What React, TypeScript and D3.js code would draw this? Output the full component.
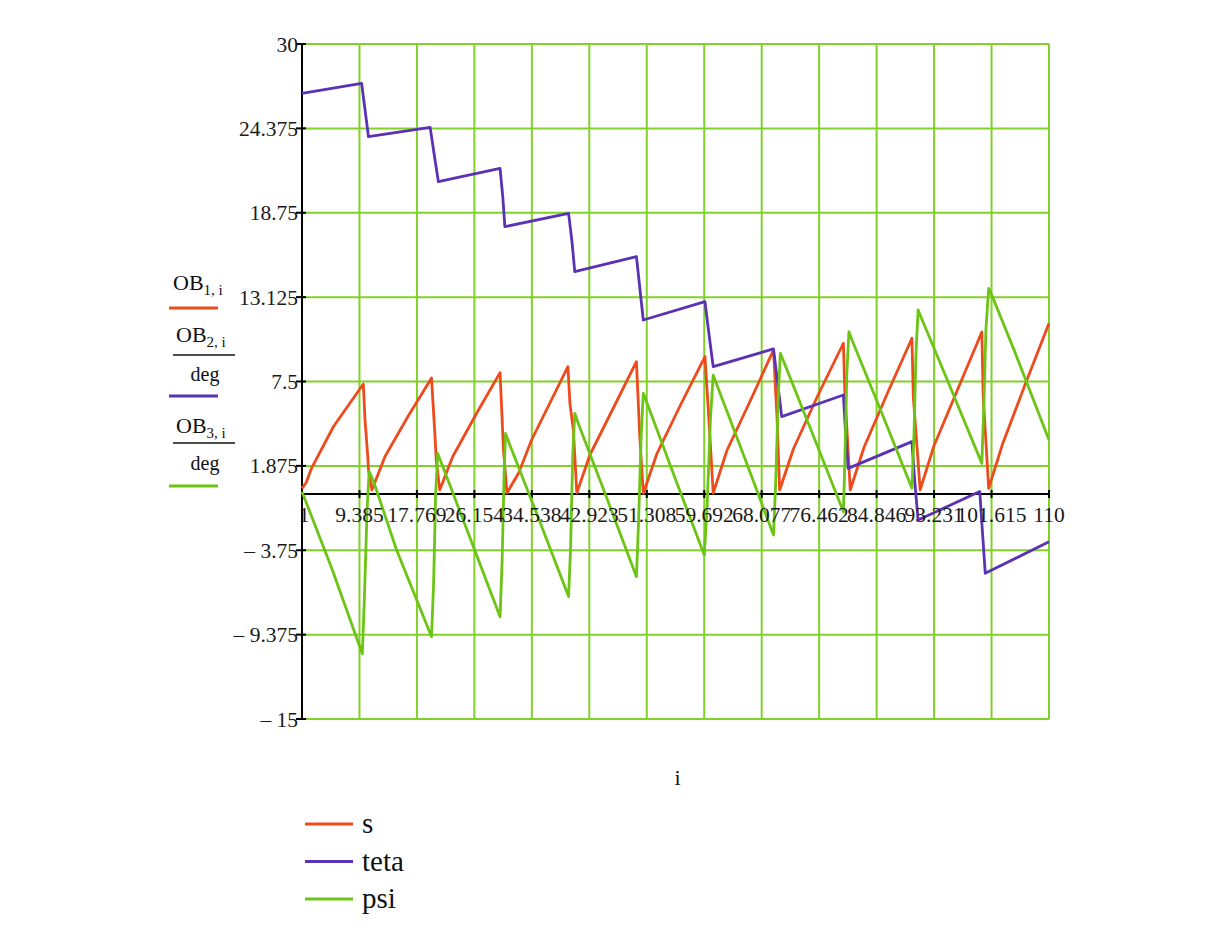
import * as d3 from 'd3';

const xTicks = [1, 9.385, 17.769, 26.154, 34.538, 42.923, 51.308, 59.692, 68.077, 76.462, 84.846, 93.231, 101.615, 110];
const xTickLabels = ['1', '9.385', '17.769', '26.154', '34.538', '42.923', '51.308', '59.692', '68.077', '76.462', '84.846', '93.231', '101.615', '110'];
const yTicks = [30, 24.375, 18.75, 13.125, 7.5, 1.875, -3.75, -9.375, -15];
const yTickLabels = ['30', '24.375', '18.75', '13.125', '7.5', '1.875', '\u2013 3.75', '\u2013 9.375', '\u2013 15'];

// s = OB[1,i]
const sPoints: [number, number][] = [
  [1, 0.38], [1.6, 0.75], [2.4, 1.73], [5.6, 4.5], [9.95, 7.33], [10.2, 4.9], [10.6, 2.5], [10.7, 1.6], [11.2, 0.27],
  [13.1, 2.49], [16.5, 5.2], [19.9, 7.73], [20.4, 3.93], [20.6, 2.2], [21.1, 0.27],
  [23.0, 2.5], [26.5, 5.4], [29.9, 8.09], [30.4, 2.93], [30.9, 0.07],
  [32.6, 1.38], [34.5, 3.6], [39.8, 8.49], [40.1, 6.0], [40.6, 4.27], [41.1, 0.07],
  [43.0, 2.6], [46.5, 5.8], [49.8, 8.82], [50.3, 3.7], [50.8, 0.05],
  [52.8, 2.7], [56.3, 6.0], [59.8, 9.16], [60.4, 4.8], [61.0, 0.05],
  [63.0, 2.9], [66.5, 6.3], [69.8, 9.6], [70.3, 5.2], [70.7, 0.27],
  [72.7, 3.0], [76.3, 6.6], [80.0, 10.05], [80.2, 6.9], [81.0, 0.27],
  [83.0, 3.1], [86.5, 6.8], [90.0, 10.38], [90.2, 6.5], [91.2, 0.27],
  [93.2, 3.2], [96.7, 7.0], [100.2, 10.8], [100.4, 6.5], [101.2, 0.38],
  [103.2, 3.3], [106.6, 7.4], [110, 11.38],
];

// teta = OB[2,i] / deg
const tetaPoints: [number, number][] = [
  [1, 26.71], [9.7, 27.38], [10.2, 25.6], [10.7, 23.82],
  [19.7, 24.44], [20.3, 22.6], [20.9, 20.82],
  [29.9, 21.71], [30.3, 19.8], [30.6, 17.82],
  [39.9, 18.71], [40.4, 16.8], [40.8, 14.82],
  [49.8, 15.82], [50.3, 13.7], [50.8, 11.6],
  [59.8, 12.82], [60.4, 10.6], [61.0, 8.49],
  [69.8, 9.67], [70.4, 7.4], [71.0, 5.16],
  [80.0, 6.6], [80.3, 4.2], [80.7, 1.71],
  [90.0, 3.49], [90.4, 0.9], [90.9, -1.73],
  [99.9, 0.16], [100.3, -2.6], [100.7, -5.29],
  [110, -3.18],
];

// psi = OB[3,i] / deg
const psiPoints: [number, number][] = [
  [1, 0.15], [5.3, -4.9], [9.8, -10.65], [10.1, -7.0], [10.5, -1.0], [10.8, 1.5],
  [11.4, 0.9], [14.8, -3.73], [19.9, -9.51], [20.2, -6.0], [20.5, 0.0], [20.8, 2.7],
  [21.4, 2.0], [25.5, -2.9], [29.9, -8.18], [30.2, -4.5], [30.5, 1.5], [30.7, 4.04],
  [31.3, 3.3], [35.5, -1.6], [39.9, -6.84], [40.2, -3.5], [40.5, 2.5], [40.8, 5.38],
  [41.4, 4.6], [45.5, -0.3], [49.8, -5.51], [50.1, -2.0], [50.5, 4.0], [50.8, 6.71],
  [51.4, 6.0], [55.4, 1.1], [59.7, -4.07], [60.1, -1.0], [60.6, 5.0], [61.0, 7.93],
  [61.6, 7.2], [65.6, 2.4], [69.8, -2.73], [70.1, 0.5], [70.5, 6.5], [70.8, 9.38],
  [71.4, 8.7], [75.6, 3.9], [80.0, -1.18], [80.2, 2.0], [80.5, 8.0], [80.8, 10.82],
  [81.4, 10.1], [85.6, 5.4], [90.0, 0.38], [90.3, 4.0], [90.6, 9.5], [90.9, 12.27],
  [91.5, 11.6], [95.8, 6.9], [100.2, 2.04], [100.5, 6.0], [100.8, 11.0], [101.2, 13.71],
  [101.8, 13.1], [105.0, 9.49], [110, 3.6],
];

const legendNames = ['s', 'teta', 'psi'];

const RED = '#ee4a1c';
const PURPLE = '#5a32b4';
const GREEN = '#6cc414';
const GRID = '#82d02a';
const FONT = '"Liberation Serif", "Times New Roman", serif';

export default function App() {
  const W = 1221;
  const H = 937;
  const left = 302, right = 1049, top = 44, bottom = 719;

  const x = d3.scaleLinear().domain([1, 110]).range([left, right]);
  const y = d3.scaleLinear().domain([-15, 30]).range([bottom, top]);

  const line = d3.line<[number, number]>()
    .x(d => x(d[0]))
    .y(d => y(d[1]));

  const series = [
    { pts: sPoints, color: RED },
    { pts: tetaPoints, color: PURPLE },
    { pts: psiPoints, color: GREEN },
  ];
  const colors = [RED, PURPLE, GREEN];
  const y0 = y(0);

  return (
    <svg width={W} height={H} style={{ position: 'absolute', left: 0, top: 0, background: '#fff' }} fontFamily={FONT}>
      <rect width={W} height={H} fill="#fff" />
      {/* grid */}
      {xTicks.map((t, i) => (
        <line key={'gx' + i} x1={x(t)} x2={x(t)} y1={top} y2={bottom} stroke={GRID} strokeWidth={2} />
      ))}
      {yTicks.map((t, i) => (
        <line key={'gy' + i} x1={left} x2={right} y1={y(t)} y2={y(t)} stroke={GRID} strokeWidth={2} />
      ))}

      {/* axes */}
      <line x1={left} x2={left} y1={top} y2={bottom} stroke="#000" strokeWidth={2} />
      <line x1={left} x2={right} y1={y0} y2={y0} stroke="#000" strokeWidth={2} />
      {yTicks.map((t, i) => (
        <line key={'ty' + i} x1={left - 6} x2={left + 4} y1={y(t)} y2={y(t)} stroke="#000" strokeWidth={2} />
      ))}
      {xTicks.map((t, i) => (
        <line key={'tx' + i} x1={x(t)} x2={x(t)} y1={y0 - 4} y2={y0 + 4} stroke="#000" strokeWidth={2} />
      ))}

      {/* curves */}
      {series.map((s, i) => (
        <path key={'s' + i} d={line(s.pts) || ''} fill="none" stroke={s.color} strokeWidth={2.8} strokeLinejoin="round" />
      ))}

      {/* tick labels */}
      {yTicks.map((t, i) => (
        <text key={'ly' + i} x={left - 4} y={y(t)} dy="0.35em" textAnchor="end" fontSize={21.5} fill="#1a1a1a">
          {yTickLabels[i]}
        </text>
      ))}
      {xTicks.map((t, i) => (
        <text key={'lx' + i} x={x(t) + (i === 0 ? 2 : 0)} y={y0 + 28} textAnchor="middle" fontSize={21.5} fill="#1a1a1a">
          {xTickLabels[i]}
        </text>
      ))}

      {/* x title */}
      <text x={(left + right) / 2 + 2} y={785} textAnchor="middle" fontSize={22} fill="#111">i</text>

      {/* y-axis legend (trace labels) */}
      <text x={173} y={290} fontSize={22} fill="#111">
        OB<tspan fontSize={15} dy={5}>1, i</tspan>
      </text>
      <line x1={169} x2={218} y1={308} y2={308} stroke={RED} strokeWidth={3} />

      <text x={176} y={342} fontSize={22} fill="#111">
        OB<tspan fontSize={15} dy={5}>2, i</tspan>
      </text>
      <line x1={173} x2={235} y1={355} y2={355} stroke="#111" strokeWidth={1.5} />
      <text x={205} y={381} textAnchor="middle" fontSize={20} fill="#111">deg</text>
      <line x1={169} x2={218} y1={396} y2={396} stroke={PURPLE} strokeWidth={3} />

      <text x={176} y={433} fontSize={22} fill="#111">
        OB<tspan fontSize={15} dy={5}>3, i</tspan>
      </text>
      <line x1={173} x2={235} y1={443} y2={443} stroke="#111" strokeWidth={1.5} />
      <text x={205} y={470} textAnchor="middle" fontSize={20} fill="#111">deg</text>
      <line x1={169} x2={218} y1={486} y2={486} stroke={GREEN} strokeWidth={3} />

      {/* bottom legend */}
      {legendNames.map((n, i) => (
        <g key={'lg' + i}>
          <line x1={305} x2={353} y1={824 + i * 37.5} y2={824 + i * 37.5} stroke={colors[i]} strokeWidth={3} />
          <text x={362} y={833 + i * 37.5} fontSize={29} fill="#111">{n}</text>
        </g>
      ))}
    </svg>
  );
}
